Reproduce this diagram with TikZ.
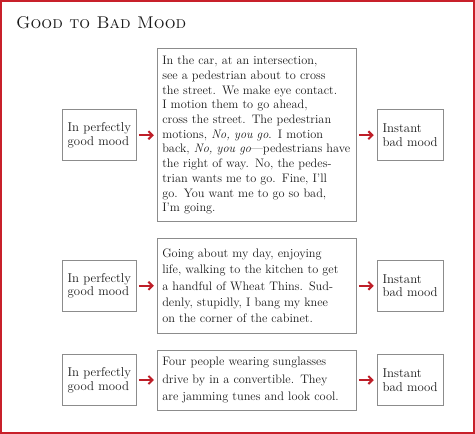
\documentclass[tikz,border=0pt]{standalone}
\usepackage{tikz}
\usepackage{xcolor}
\definecolor{framered}{RGB}{200, 32, 42}
\definecolor{arrred}{RGB}{190, 30, 40}
\definecolor{boxgray}{RGB}{140, 140, 140}
\definecolor{txt}{RGB}{25, 25, 25}
\usetikzlibrary{arrows.meta, positioning}

\tikzset{
  moodbox/.style={draw=boxgray, line width=0.9pt, align=left, text=txt, inner sep=4pt,
    minimum height=51pt, font=\fontsize{12.8}{13.7}\selectfont},
  storybox/.style={draw=boxgray, line width=0.9pt, align=left, text=txt, inner xsep=5pt,
    inner ysep=6pt, text width=189pt, minimum width=199pt},
  moodarrow/.style={-{Straight Barb[length=4pt, width=8pt]}, line width=2pt, draw=arrred}
}

\begin{document}
\begin{tikzpicture}[x=1pt, y=-1pt, node distance=20pt]
  \useasboundingbox (0,0) rectangle (475,434);
  \draw[framered, line width=2pt] (1,1) rectangle (474,433);

  \node[anchor=base west, text=txt, inner sep=0pt, font=\fontsize{17}{20}\selectfont]
    (title) at (16,28) {\textsc{Good to Bad Mood}};

  % row 1
  \node[storybox, minimum height=173pt, font=\fontsize{12.3}{14.7}\selectfont]
    (story1) at (256.8,135.2) {In the car, at an intersection,\\
      see a pedestrian about to cross\\
      the street. We make eye contact.\\
      I motion them to go ahead,\\
      cross the street. The pedestrian\\
      motions, \textit{No, you go}. I motion\\
      \makebox[\linewidth][l]{back, \textit{No, you go}---pedestrians have}\\
      the right of way. No, the pedes-\\
      trian wants me to go. Fine, I'll\\
      go. You want me to go so bad,\\
      I'm going.};
  \node[moodbox, minimum width=74pt, left=of story1] (good1) {In perfectly\\good mood};
  \node[moodbox, minimum width=66pt, right=of story1] (bad1) {Instant\\bad mood};
  \draw[moodarrow] ([xshift=2pt]good1.east) -- ([xshift=-3pt]story1.west |- good1.east);
  \draw[moodarrow] (story1.east |- bad1.west) ++(2pt,0) -- ([xshift=-3pt]bad1.west);

  % row 2
  \node[storybox, minimum height=95pt, font=\fontsize{12.3}{16.1}\selectfont]
    (story2) at (256.8,285.8) {Going about my day, enjoying\\
      life, walking to the kitchen to get\\
      a handful of Wheat Thins. Sud-\\
      denly, stupidly, I bang my knee\\
      on the corner of the cabinet.};
  \node[moodbox, minimum width=74pt, left=of story2] (good2) {In perfectly\\good mood};
  \node[moodbox, minimum width=66pt, right=of story2] (bad2) {Instant\\bad mood};
  \draw[moodarrow] ([xshift=2pt]good2.east) -- ([xshift=-3pt]story2.west |- good2.east);
  \draw[moodarrow] (story2.east |- bad2.west) ++(2pt,0) -- ([xshift=-3pt]bad2.west);

  % row 3
  \node[storybox, minimum height=60pt, font=\fontsize{12.3}{17.8}\selectfont]
    (story3) at (256.8,380) {Four people wearing sunglasses\\
      drive by in a convertible. They\\
      are jamming tunes and look cool.};
  \node[moodbox, minimum width=74pt, left=of story3] (good3) {In perfectly\\good mood};
  \node[moodbox, minimum width=66pt, right=of story3] (bad3) {Instant\\bad mood};
  \draw[moodarrow] ([xshift=2pt]good3.east) -- ([xshift=-3pt]story3.west |- good3.east);
  \draw[moodarrow] (story3.east |- bad3.west) ++(2pt,0) -- ([xshift=-3pt]bad3.west);
\end{tikzpicture}
\end{document}
